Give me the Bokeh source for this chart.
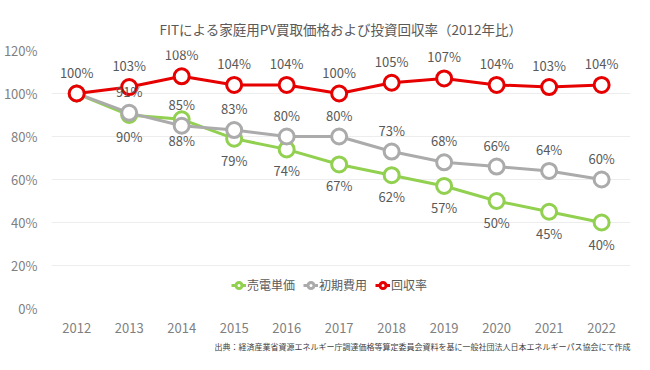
from bokeh.plotting import figure
from bokeh.models import ColumnDataSource, LabelSet, Legend, LegendItem, FixedTicker, Title, Range1d
from bokeh.core.properties import value
from bokeh.embed import file_html
from bokeh.resources import INLINE

years = [2012, 2013, 2014, 2015, 2016, 2017, 2018, 2019, 2020, 2021, 2022]
sell_price = [100, 90, 88, 79, 74, 67, 62, 57, 50, 45, 40]      # 売電単価
init_cost = [100, 91, 85, 83, 80, 80, 73, 68, 66, 64, 60]       # 初期費用
recovery = [100, 103, 108, 104, 104, 100, 105, 107, 104, 103, 104]  # 回収率
y_ticks = [0, 20, 40, 60, 80, 100, 120]

FONT = "Noto Sans CJK JP"
GREEN = "#92D050"
GRAY = "#ABABAB"
RED = "#E60000"
TXT = "#595959"

p = figure(width=634, height=354, output_backend="svg", toolbar_location=None,
           x_range=Range1d(2011.52, 2022.55), y_range=Range1d(0, 120),
           min_border_left=37, min_border_right=4, min_border_top=50, min_border_bottom=5,
           outline_line_color=None)

p.title.text = "FITによる家庭用PV買取価格および投資回収率（2012年比）"
p.title.align = "center"
p.title.text_font = FONT
p.title.text_font_size = "13.5px"
p.title.text_font_style = "normal"
p.title.text_color = TXT
p.title.standoff = 24

p.xgrid.grid_line_color = None
p.ygrid.grid_line_color = "#EDEDED"
p.ygrid.ticker = FixedTicker(ticks=y_ticks)

p.yaxis.ticker = FixedTicker(ticks=y_ticks)
p.yaxis.major_label_overrides = {t: f"{t}%" for t in y_ticks}
p.xaxis.ticker = FixedTicker(ticks=years)
for ax in (p.xaxis, p.yaxis):
    ax.axis_line_color = None
    ax.major_tick_line_color = None
    ax.minor_tick_line_color = None
    ax.major_label_text_font = FONT
    ax.major_label_text_font_size = "13px"
    ax.major_label_text_color = "#7F7F7F"
p.yaxis.major_label_standoff = 8
p.xaxis.major_label_standoff = 8

src = ColumnDataSource(dict(
    x=years, g=sell_price, c=init_cost, r=recovery,
    rl=[f"{v}%" for v in recovery],
))

renderers = {}
for col, color in (("g", GREEN), ("c", GRAY), ("r", RED)):
    l = p.line("x", col, source=src, line_color=color, line_width=3)
    s = p.scatter("x", col, source=src, size=15, fill_color="white", line_color=color, line_width=3)
    renderers[col] = [l, s]

lab_src = ColumnDataSource(dict(
    x=years[1:], g=sell_price[1:], c=init_cost[1:],
    gl=[f"{v}%" for v in sell_price[1:]], cl=[f"{v}%" for v in init_cost[1:]],
))
common = dict(text_font=value(FONT), text_font_size="13px", text_color=TXT, text_align="center")
p.add_layout(LabelSet(x="x", y="r", text="rl", source=src, text_baseline="bottom", y_offset=12, **common))
p.add_layout(LabelSet(x="x", y="c", text="cl", source=lab_src, text_baseline="bottom", y_offset=12, **common))
p.add_layout(LabelSet(x="x", y="g", text="gl", source=lab_src, text_baseline="top", y_offset=-12, **common))

items = [LegendItem(label="売電単価", renderers=renderers["g"]),
         LegendItem(label="初期費用", renderers=renderers["c"]),
         LegendItem(label="回収率", renderers=renderers["r"])]
legend = Legend(items=items, orientation="horizontal", location=(180, 15),
                label_text_font=FONT, label_text_font_size="12px", label_text_color=TXT,
                glyph_width=15, glyph_height=16, label_standoff=1, spacing=8,
                padding=2, margin=0, border_line_color=None, background_fill_alpha=0)
p.add_layout(legend, "center")

src_title = Title(text="出典：経済産業省資源エネルギー庁調達価格等算定委員会資料を基に一般社団法人日本エネルギーパス協会にて作成",
                  align="right", text_font=FONT, text_font_size="8px", text_font_style="normal",
                  text_color="#404040", standoff=6)
p.add_layout(src_title, "below")

open("out.html", "w").write(file_html(p, INLINE))
